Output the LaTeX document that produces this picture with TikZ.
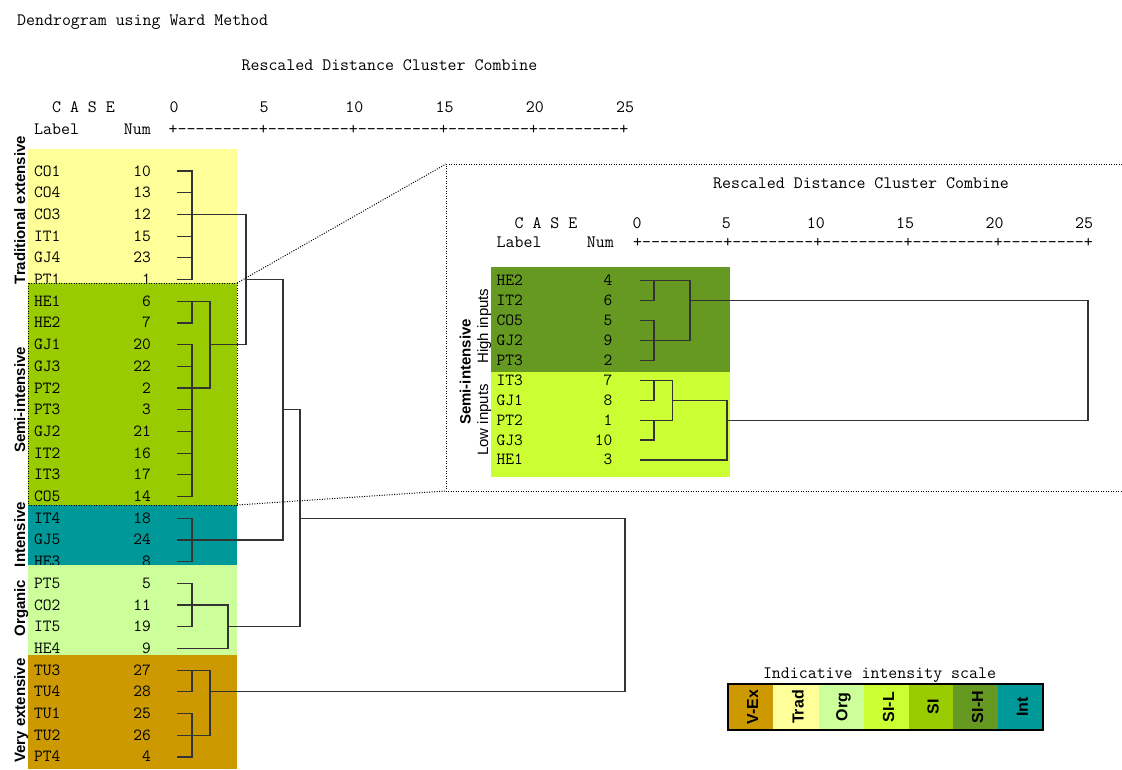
\documentclass[tikz,border=0pt]{standalone}
\usepackage{fontspec}
\setsansfont{Liberation Sans}
\definecolor{cVEx}{HTML}{CC9900}
\definecolor{cTrad}{HTML}{FFFF99}
\definecolor{cOrg}{HTML}{CCFF99}
\definecolor{cSIL}{HTML}{CCFF33}
\definecolor{cSI}{HTML}{99CC00}
\definecolor{cSIH}{HTML}{669922}
\definecolor{cInt}{HTML}{009999}
\tikzset{
  hdr/.style={font=\ttfamily\fontsize{17.4}{19}\selectfont, inner sep=0pt, text=black},
  ruler/.style={font=\ttfamily\fontsize{17.5}{19}\selectfont, inner sep=0pt, text=black, anchor=base west},
  rowlab/.style={font=\ttfamily\fontsize{17}{18}\selectfont, inner sep=0pt, text=black, anchor=base west},
  rownum/.style={font=\ttfamily\fontsize{17}{18}\selectfont, inner sep=0pt, text=black, anchor=base east},
  grouplab/.style={font=\sffamily\bfseries\fontsize{15}{17}\selectfont, rotate=90, anchor=base, inner sep=0pt},
  sublab/.style={font=\sffamily\fontsize{15}{17}\selectfont, rotate=90, anchor=base, inner sep=0pt},
  leglab/.style={font=\sffamily\bfseries\fontsize{16}{18}\selectfont, rotate=90, anchor=center, inner sep=0pt},
  link/.style={draw=black!80, line width=1.2pt, line cap=rect},
  zoomline/.style={draw=black, line width=1pt, dash pattern=on 1pt off 1.5pt},
}
\begin{document}
\begin{tikzpicture}[x=1pt,y=-1pt]
\useasboundingbox (0,0) rectangle (1122,769);
\fill[white] (0,0) rectangle (1122,769);

% ---------- main headers
\node[hdr, anchor=base west] (title) at (17,25) {Dendrogram using Ward Method};
\node[hdr, anchor=base] (rdcc) at (389.5,70) {Rescaled Distance Cluster Combine};
\node[hdr, anchor=base] (case) at (83.5,112) {C A S E};
\foreach \v [count=\k from 0] in {0,5,10,15,20,25}
  \node[hdr, anchor=base] (t\k) at ({174+90.2*\k},112) {\v};
\node[hdr, anchor=base west] (lab) at (34,134) {Label};
\node[hdr, anchor=base east] (num) at (151,134) {Num};
\node[ruler] (rul) at (168.5,134) {+---------+---------+---------+---------+---------+};

% ---------- main groups
\fill[cTrad] (28,149) rectangle (237,283);
\foreach \lab/\num [count=\i from 0] in {CO1/10,CO4/13,CO3/12,IT1/15,GJ4/23,PT1/1}{
  \node[rowlab] (L\i) at (34,{171+21.7*\i+5}) {\lab};
  \node[rownum] (N\i) at (151,{171+21.7*\i+5}) {\num};
  \coordinate (m\i) at (178,{171+21.7*\i});
}
\fill[cSI] (28,283) rectangle (237,505);
\foreach \lab/\num [count=\i from 6] in {HE1/6,HE2/7,GJ1/20,GJ3/22,PT2/2,PT3/3,GJ2/21,IT2/16,IT3/17,CO5/14}{
  \node[rowlab] (L\i) at (34,{171+21.7*\i+5}) {\lab};
  \node[rownum] (N\i) at (151,{171+21.7*\i+5}) {\num};
  \coordinate (m\i) at (178,{171+21.7*\i});
}
\fill[cInt] (28,505) rectangle (237,565);
\foreach \lab/\num [count=\i from 16] in {IT4/18,GJ5/24,HE3/8}{
  \node[rowlab] (L\i) at (34,{171+21.7*\i+5}) {\lab};
  \node[rownum] (N\i) at (151,{171+21.7*\i+5}) {\num};
  \coordinate (m\i) at (178,{171+21.7*\i});
}
\fill[cOrg] (28,565) rectangle (237,655);
\foreach \lab/\num [count=\i from 19] in {PT5/5,CO2/11,IT5/19,HE4/9}{
  \node[rowlab] (L\i) at (34,{171+21.7*\i+5}) {\lab};
  \node[rownum] (N\i) at (151,{171+21.7*\i+5}) {\num};
  \coordinate (m\i) at (178,{171+21.7*\i});
}
\fill[cVEx] (28,655) rectangle (237,769);
\foreach \lab/\num [count=\i from 23] in {TU3/27,TU4/28,TU1/25,TU2/26,PT4/4}{
  \node[rowlab] (L\i) at (34,{171+21.7*\i+5}) {\lab};
  \node[rownum] (N\i) at (151,{171+21.7*\i+5}) {\num};
  \coordinate (m\i) at (178,{171+21.7*\i});
}

% group labels
\node[grouplab] (gTrad) at (25,210) {Traditional extensive};
\node[grouplab] (gSI) at (25,400) {Semi-intensive};
\node[grouplab] (gInt) at (25,534.5) {Intensive};
\node[grouplab] (gOrg) at (25,608) {Organic};
\node[grouplab] (gVEx) at (25,710.5) {Very extensive};

% ---------- main dendrogram
\coordinate (xa) at (192,0);
\coordinate (xb) at (210,0);
\coordinate (xc) at (228,0);
\coordinate (xd) at (246,0);
\coordinate (xe) at (283,0);
\coordinate (xf) at (300,0);
\coordinate (xg) at (625,0);

% traditional
\draw[link] (m0) -- (m0 -| xa) (m1) -- (m1 -| xa) (m2) -- (m2 -| xd)
  (m3) -- (m3 -| xa) (m4) -- (m4 -| xa) (m5) -- (m5 -| xa)
  (m0 -| xa) -- (m5 -| xa);
% semi-intensive
\draw[link] (m6) -- (m6 -| xb) (m7) -- (m7 -| xa) (m6 -| xa) -- (m7 -| xa);
\draw[link] (m8) -- (m8 -| xa) (m9) -- (m9 -| xa) (m10) -- (m10 -| xb)
  (m11) -- (m11 -| xa) (m12) -- (m12 -| xa) (m13) -- (m13 -| xa)
  (m14) -- (m14 -| xa) (m15) -- (m15 -| xa)
  (m8 -| xa) -- (m15 -| xa);
\draw[link] (m6 -| xb) -- (m10 -| xb) (m8 -| xb) -- (m8 -| xd);
\draw[link] (m2 -| xd) -- (m8 -| xd) (m5 -| xd) -- (m5 -| xe);
% intensive
\draw[link] (m16) -- (m16 -| xa) (m17) -- (m17 -| xe) (m18) -- (m18 -| xa)
  (m16 -| xa) -- (m18 -| xa);
\draw[link] (m5 -| xe) -- (m17 -| xe) (m11 -| xe) -- (m11 -| xf);
% organic
\draw[link] (m19) -- (m19 -| xa) (m20) -- (m20 -| xc) (m21) -- (m21 -| xa)
  (m19 -| xa) -- (m21 -| xa) (m22) -- (m22 -| xc)
  (m20 -| xc) -- (m22 -| xc) (m21 -| xc) -- (m21 -| xf);
\draw[link] (m11 -| xf) -- (m21 -| xf) (m16 -| xf) -- (m16 -| xg);
% very extensive
\draw[link] (m23) -- (m23 -| xb) (m24) -- (m24 -| xa) (m23 -| xa) -- (m24 -| xa)
  (m25) -- (m25 -| xa) (m26) -- (m26 -| xb) (m27) -- (m27 -| xa)
  (m25 -| xa) -- (m27 -| xa) (m23 -| xb) -- (m26 -| xb)
  (m24 -| xb) -- (m24 -| xg);
\draw[link] (m16 -| xg) -- (m24 -| xg);

% ---------- zoom frame
\coordinate (zA) at (237,283);
\coordinate (zB) at (237,505);
\coordinate (zC) at (446,164);
\coordinate (zD) at (446,491);
\coordinate (zE) at (1122,164);
\coordinate (zF) at (1122,491);
\draw[zoomline] (28,283) rectangle (237,505);
\draw[zoomline] (zA) -- (zC) (zB) -- (zD);
\draw[zoomline] (zE) -- (zC) -- (zD) -- (zF);

% ---------- inset headers
\node[hdr, anchor=base] (rdcc2) at (861,188) {Rescaled Distance Cluster Combine};
\node[hdr, anchor=base] (case2) at (546,228) {C A S E};
\foreach \v [count=\k from 0] in {0,5,10,15,20,25}
  \node[hdr, anchor=base] (u\k) at ({637+89.4*\k},228) {\v};
\node[hdr, anchor=base west] (lab2) at (496.5,247) {Label};
\node[hdr, anchor=base east] (num2) at (614,247) {Num};
\node[ruler] (rul2) at (633,247) {+---------+---------+---------+---------+---------+};

% ---------- inset groups
\fill[cSIH] (491,267) rectangle (730,372);
\fill[cSIL] (491,372) rectangle (730,477);
\foreach \lab/\num [count=\i from 0] in {HE2/4,IT2/6,CO5/5,GJ2/9,PT3/2,IT3/7,GJ1/8,PT2/1,GJ3/10,HE1/3}{
  \node[rowlab] (S\i) at (496.5,{280.7+19.92*\i+5}) {\lab};
  \node[rownum] (T\i) at (612.6,{280.7+19.92*\i+5}) {\num};
  \coordinate (s\i) at (641,{280.7+19.92*\i});
}
\node[grouplab] (gSI2) at (470.7,372) {Semi-intensive};
\node[sublab] (gHI) at (488,326) {High inputs};
\node[sublab] (gLI) at (488,420) {Low inputs};

\coordinate (ya) at (654,0);
\coordinate (yb) at (672.6,0);
\coordinate (yc) at (690,0);
\coordinate (yd) at (727,0);
\coordinate (ye) at (1088,0);
\draw[link] (s0) -- (s0 -| yc) (s1) -- (s1 -| ya) (s0 -| ya) -- (s1 -| ya)
  (s2) -- (s2 -| ya) (s3) -- (s3 -| yc) (s4) -- (s4 -| ya) (s2 -| ya) -- (s4 -| ya)
  (s0 -| yc) -- (s3 -| yc) (s1 -| yc) -- (s1 -| ye);
\draw[link] (s5) -- (s5 -| yb) (s6) -- (s6 -| ya) (s5 -| ya) -- (s6 -| ya)
  (s7) -- (s7 -| yb) (s8) -- (s8 -| ya) (s7 -| ya) -- (s8 -| ya)
  (s5 -| yb) -- (s7 -| yb) (s6 -| yb) -- (s6 -| yd)
  (s9) -- (s9 -| yd) (s6 -| yd) -- (s9 -| yd) (s7 -| yd) -- (s7 -| ye);
\draw[link] (s1 -| ye) -- (s7 -| ye);

% ---------- legend
\node[hdr, anchor=base] (legt) at (879.5,678) {Indicative intensity scale};
\foreach \c/\t/\a/\b [count=\k] in {cVEx/V-Ex/728/773, cTrad/Trad/773/819, cOrg/Org/819/864, cSIL/SI-L/864/909, cSI/SI/909/953, cSIH/SI-H/953/998, cInt/Int/998/1043}{
  \fill[\c] (\a,684) rectangle (\b,730);
  \node[leglab] (leg\k) at ({(\a+\b)/2+2},707) {\t};
}
\draw[black, line width=2pt] (728,684) rectangle (1043,730);
\end{tikzpicture}
\end{document}
